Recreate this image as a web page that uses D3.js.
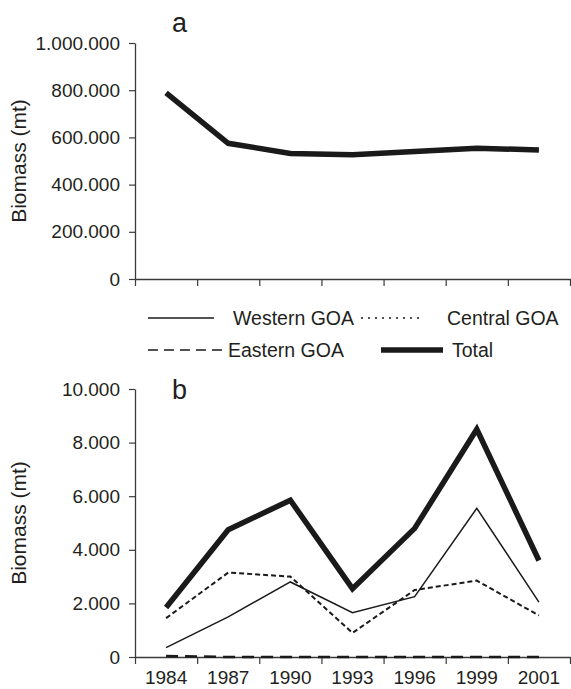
<!DOCTYPE html>
<html>
<head>
<meta charset="utf-8">
<script src="https://cdn.jsdelivr.net/npm/d3@7"></script>
<style>
  body { margin: 0; background: #fff; }
  svg { display: block; font-family: "Liberation Sans", Arial, sans-serif; }
  .tick text { fill: #231f20; }
</style>
</head>
<body>
<div id="chart"></div>
<script>
// data
const years = ["1984", "1987", "1990", "1993", "1996", "1999", "2001"];
const totalA = [789000, 575000, 532000, 527000, 540000, 554000, 547000];
const western = [350, 1500, 2800, 1650, 2250, 5550, 2050];
const central = [1450, 3150, 3000, 900, 2500, 2850, 1550];
const eastern = [40, 0, 0, 0, 0, 0, 0];
const totalB = [1850, 4750, 5850, 2550, 4800, 8500, 3600];
const ticksA = [0, 200000, 400000, 600000, 800000, 1000000];
const ticksB = [0, 2000, 4000, 6000, 8000, 10000];
const seriesNames = ["Western GOA", "Central GOA", "Eastern GOA", "Total"];

const width = 571, height = 689;
const ink = "#231f20";
const axisColor = "#3a3a3a";

const fmt = d3.formatLocale({ decimal: ",", thousands: ".", grouping: [3], currency: ["", ""] }).format(",d");

const svg = d3.select("#chart").append("svg")
  .attr("width", width)
  .attr("height", height);

// line styles per series (chart / legend)
const styles = {
  "Western GOA": { w: 1.5, dash: null, legendDash: null },
  "Central GOA": { w: 2, dash: "5,3", legendDash: "2,5" },
  "Eastern GOA": { w: 2.5, dash: "12,7", legendDash: "10,6" },
  "Total": { w: 5.5, dash: null, legendDash: null }
};

const xLeft = 135, xRight = 570;
const xBand = d3.scaleBand().domain(years).range([xLeft, xRight]);
const xBounds = d3.scaleLinear().domain([0, years.length]).range([xLeft, xRight]);
const xc = d => xBand(d) + xBand.bandwidth() / 2;

function drawPanel(opts) {
  const y = d3.scaleLinear().domain([0, opts.max]).range([opts.bottom, opts.top]);
  const g = svg.append("g");

  // y axis
  const yAxis = g.append("g")
    .attr("transform", `translate(${xLeft},0)`)
    .call(d3.axisLeft(y).tickValues(opts.ticks).tickSize(6).tickSizeOuter(0).tickPadding(9).tickFormat(fmt));
  yAxis.selectAll("text").style("font-size", "19px");

  // x axis: ticks at category boundaries
  const xAxis = g.append("g")
    .attr("transform", `translate(0,${opts.bottom})`)
    .call(d3.axisBottom(xBounds).tickValues(d3.range(years.length + 1)).tickSize(7).tickSizeOuter(0).tickFormat(""));

  [yAxis, xAxis].forEach(a => {
    a.select(".domain").attr("stroke", axisColor).attr("stroke-width", 1.3);
    a.selectAll(".tick line").attr("stroke", axisColor).attr("stroke-width", 1.2);
  });

  if (opts.labels) {
    const lab = g.append("g")
      .attr("transform", `translate(0,${opts.bottom})`)
      .call(d3.axisBottom(xBand).tickSize(0).tickPadding(14));
    lab.select(".domain").remove();
    lab.selectAll("text").style("font-size", "19px");
  }

  // axis title
  g.append("text")
    .attr("transform", `translate(19,${(opts.top + opts.bottom) / 2}) rotate(-90)`)
    .attr("text-anchor", "middle")
    .attr("dy", "0.35em")
    .attr("fill", ink)
    .style("font-size", "21px")
    .text("Biomass (mt)");

  // panel letter
  g.append("text")
    .attr("x", 172)
    .attr("y", opts.letterY)
    .attr("fill", ink)
    .style("font-size", "27px")
    .text(opts.letter);

  const line = d3.line().x((d, i) => xc(years[i])).y(d => y(d));

  opts.series.forEach(s => {
    const st = styles[s.name];
    g.append("path")
      .datum(s.values)
      .attr("d", line)
      .attr("fill", "none")
      .attr("stroke", "#1a1a1a")
      .attr("stroke-width", st.w)
      .attr("stroke-dasharray", st.dash)
      .attr("stroke-linejoin", "miter");
  });
}

drawPanel({
  top: 43, bottom: 279, max: 1000000, ticks: ticksA, letter: "a", letterY: 32, labels: false,
  series: [{ name: "Total", values: totalA }]
});

drawPanel({
  top: 389, bottom: 657, max: 10000, ticks: ticksB, letter: "b", letterY: 399, labels: true,
  series: [
    { name: "Western GOA", values: western },
    { name: "Central GOA", values: central },
    { name: "Eastern GOA", values: eastern },
    { name: "Total", values: totalB }
  ]
});

// legend
const legendLayout = [
  { x1: 148, x2: 214, tx: 233, y: 318 },
  { x1: 361, x2: 422, tx: 447, y: 318 },
  { x1: 148, x2: 222, tx: 228, y: 350 },
  { x1: 381, x2: 443, tx: 452, y: 350 }
];

const legend = svg.append("g");
seriesNames.forEach((name, i) => {
  const p = legendLayout[i];
  const st = styles[name];
  legend.append("line")
    .attr("x1", p.x1).attr("x2", p.x2)
    .attr("y1", p.y).attr("y2", p.y)
    .attr("stroke", "#1a1a1a")
    .attr("stroke-width", name === "Total" ? 5.5 : 1.5)
    .attr("stroke-dasharray", st.legendDash);
  legend.append("text")
    .attr("x", p.tx)
    .attr("y", p.y)
    .attr("dy", "0.35em")
    .attr("fill", ink)
    .style("font-size", "19.5px")
    .text(name);
});
</script>
</body>
</html>
